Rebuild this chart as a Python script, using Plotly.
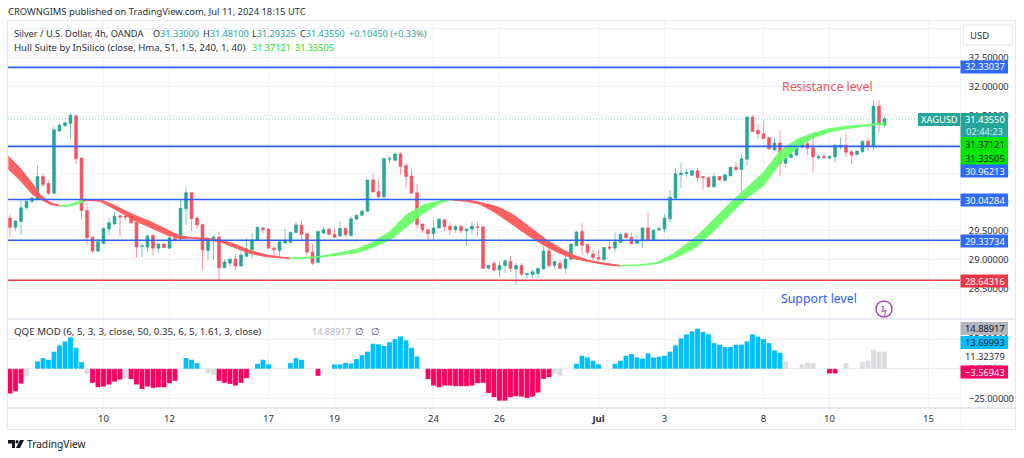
import plotly.graph_objects as go
from plotly.subplots import make_subplots

opens = [29.72,29.56,29.66,29.90,30.01,30.05,30.44,30.32,30.15,31.23,31.32,31.36,31.49,30.76,29.85,29.39,29.15,29.28,29.53,29.62,
29.76,29.75,29.75,29.65,29.23,29.22,29.42,29.20,29.27,29.20,29.38,29.36,29.88,30.16,29.72,29.61,29.16,29.33,29.39,28.86,
28.94,29.01,28.89,29.06,29.17,29.34,29.55,29.53,29.20,29.16,29.29,29.30,29.47,29.60,29.45,29.13,28.95,29.46,29.53,29.44,
29.41,29.54,29.42,29.70,29.77,29.84,30.38,30.18,30.09,30.74,30.72,30.83,30.63,30.45,30.16,29.62,29.52,29.45,29.55,29.69,
29.58,29.52,29.58,29.50,29.53,29.57,29.57,28.85,28.94,28.82,28.90,28.97,28.84,28.90,28.74,28.74,28.76,28.84,29.15,28.90,
28.94,28.85,29.01,29.24,29.49,29.26,29.10,29.04,29.00,29.22,29.20,29.30,29.45,29.39,29.28,29.33,29.55,29.34,29.52,29.53,
29.71,30.07,30.47,30.49,30.46,30.54,30.44,30.42,30.26,30.44,30.37,30.45,30.60,30.56,30.74,31.47,31.24,31.18,31.11,30.90,
31.02,30.67,30.77,30.81,30.95,31.01,30.94,30.76,30.79,30.76,30.78,30.95,30.98,30.87,30.82,30.87,31.05,30.97,31.66,31.33]
highs = [29.78,29.69,30.04,30.04,30.08,30.63,30.49,30.37,31.30,31.36,31.39,31.55,31.52,30.76,29.98,29.40,29.37,29.56,29.72,29.82,
29.78,29.78,29.80,29.66,29.28,29.43,29.44,29.28,29.28,29.48,29.43,30.04,30.26,30.16,29.75,29.61,29.40,29.43,29.49,29.01,
29.02,29.10,29.17,29.37,29.46,29.57,29.57,29.53,29.23,29.32,29.54,29.49,29.66,29.68,29.45,29.27,29.50,29.57,29.54,29.53,
29.66,29.57,29.75,29.78,29.85,30.38,30.50,30.40,30.76,30.80,30.86,30.86,30.67,30.57,30.31,29.62,29.52,29.69,29.72,29.71,
29.64,29.60,29.59,29.54,29.66,29.65,29.57,28.91,28.98,28.97,29.00,29.07,28.94,28.94,28.76,28.83,28.85,29.23,29.31,28.98,
29.00,29.14,29.28,29.50,29.63,29.27,29.17,29.17,29.22,29.34,29.47,29.47,29.47,29.47,29.43,29.56,29.82,29.53,29.59,29.79,
30.20,30.59,30.67,30.57,30.56,30.59,30.44,30.44,30.50,30.44,30.48,30.60,30.70,30.82,31.48,31.50,31.34,31.40,31.12,31.12,
31.24,30.82,30.90,31.02,31.08,31.14,31.14,30.82,30.85,30.81,31.00,31.12,31.18,30.90,30.89,31.06,31.12,31.76,31.76,31.48]
lows = [29.39,29.50,29.43,29.87,29.97,30.04,30.26,30.12,30.14,31.21,31.30,31.08,30.66,29.69,29.25,29.11,29.12,29.26,29.43,29.60,
29.40,29.68,29.62,29.03,29.04,29.13,29.07,29.12,29.20,29.19,29.31,29.34,29.61,29.50,29.53,28.82,28.99,28.99,28.64,28.85,
28.88,28.82,28.89,29.04,29.03,29.31,29.46,29.19,29.02,29.05,29.28,29.28,29.46,29.35,29.05,28.91,28.94,29.44,29.42,29.38,
29.39,29.40,29.40,29.69,29.75,29.83,30.17,30.06,30.04,30.68,30.71,30.47,30.24,30.15,29.54,29.46,29.34,29.34,29.53,29.50,
29.43,29.46,29.46,29.25,29.43,29.40,28.84,28.83,28.80,28.70,28.77,28.79,28.56,28.71,28.68,28.68,28.68,28.83,28.85,28.85,
28.84,28.76,28.99,29.24,29.08,29.08,28.99,28.98,28.97,29.16,29.13,29.28,29.37,29.27,29.27,29.20,29.32,29.32,29.50,29.47,
29.64,30.05,30.24,30.43,30.45,30.35,30.21,30.26,30.26,30.37,30.36,30.45,30.53,30.12,30.63,31.22,31.09,31.08,30.89,30.89,
30.45,30.60,30.76,30.80,30.93,30.82,30.51,30.74,30.75,30.73,30.68,30.90,30.78,30.65,30.81,30.86,30.89,30.89,31.20,31.29]
closes = [29.56,29.67,29.90,30.01,30.07,30.44,30.30,30.15,31.25,31.33,31.37,31.50,30.75,29.85,29.38,29.15,29.31,29.54,29.64,29.75,
29.74,29.74,29.64,29.22,29.24,29.41,29.20,29.27,29.21,29.38,29.35,29.89,30.16,29.71,29.60,29.17,29.35,29.39,28.86,28.96,
29.01,28.89,29.08,29.19,29.34,29.56,29.52,29.20,29.17,29.31,29.33,29.47,29.60,29.44,29.13,28.94,29.49,29.52,29.44,29.39,
29.54,29.43,29.71,29.77,29.84,30.38,30.17,30.09,30.75,30.75,30.83,30.62,30.44,30.15,29.61,29.52,29.45,29.55,29.70,29.57,
29.52,29.57,29.50,29.53,29.58,29.56,28.85,28.90,28.82,28.90,28.98,28.85,28.90,28.75,28.76,28.79,28.85,29.15,28.90,28.97,
28.85,29.01,29.27,29.48,29.25,29.13,29.04,29.01,29.21,29.20,29.31,29.44,29.38,29.28,29.33,29.55,29.33,29.51,29.54,29.72,
30.08,30.49,30.50,30.51,30.54,30.42,30.42,30.26,30.44,30.38,30.47,30.60,30.56,30.75,31.47,31.22,31.18,31.10,30.92,31.02,
30.66,30.76,30.82,30.97,31.01,30.93,30.78,30.79,30.77,30.79,30.98,30.98,30.86,30.81,30.88,31.05,30.97,31.66,31.34,31.44]

hull_x = [-0.3,1.8,4.2,5.5,7.3,9,10.3,12.1,13.3,13.9,16.4,18.8,22.4,25.5,28.5,30.9,33.3,35.8,38.2,40.6,43.6,46.7,49.7,50.9,
52.7,55.8,60,63,66.1,69.1,72.1,75.2,78.2,80,83,85.5,88.5,91.5,94.5,97.6,100,102.4,105.5,108.5,110.9,
114.5,117.6,120.6,122,124.8,127.9,130.9,133.9,136.9,140,143,146,149,152.1,155.2,157.6,159]
hull_upper = [30.79,30.59,30.30,30.12,29.99,29.94,29.94,29.99,30.04,30.04,30.04,29.95,29.78,29.66,29.52,29.41,29.38,29.37,29.34,29.28,29.16,29.08,29.04,29.03,
29.04,29.05,29.12,29.18,29.31,29.49,29.78,29.95,30.02,30.04,30.04,29.99,29.92,29.78,29.57,29.34,29.20,29.08,28.98,28.94,28.90,
28.91,28.95,29.10,29.20,29.40,29.69,29.98,30.24,30.50,30.88,31.08,31.19,31.27,31.31,31.33,31.36,31.37]
hull_lower = [30.57,30.38,30.12,30.05,29.96,29.93,29.92,29.96,30.00,30.03,30.01,29.89,29.69,29.56,29.43,29.37,29.37,29.34,29.31,29.22,29.11,29.05,29.03,29.02,
29.02,29.04,29.09,29.12,29.22,29.34,29.57,29.81,29.98,30.04,30.01,29.96,29.80,29.60,29.40,29.22,29.11,29.02,28.97,28.91,28.89,
28.90,28.93,29.02,29.08,29.22,29.49,29.78,30.07,30.27,30.67,30.93,31.11,31.21,31.27,31.31,31.34,31.335]
hull_breaks = [0,5,8,23,33,44,61]  # node where each red/green stretch starts or ends

qqe = [-20.8,-18.9,-12.4,-6.5,0,6.2,9,7.6,14.4,19.7,23.1,26.5,17.7,5.6,-4.5,-11.8,-15.5,-14.9,-13.2,-10.7,
-9,-7.9,-8.7,-13.2,-16.9,-14.9,-16,-15.5,-15.5,-12.1,-10.1,0,9,7.6,4.8,0,-3.9,-4.8,-10.1,-11.8,
-12.7,-14.1,-11.8,-7.9,0,4.2,7.6,3.7,0,0,0,4.8,9,7.6,0,0,-5.9,0,0,3.7,
3.7,5,4.5,8.2,11.5,14.4,21.1,20.6,19.2,22.3,25,27.3,23.9,17.7,10.4,0,-8.7,-14.1,-15.5,-14.1,
-14.1,-14.6,-14.6,-14.6,-14.1,-12.1,-11.8,-20.3,-23.9,-26.8,-26.8,-23.9,-23.1,-23.4,-24.5,-23.4,-20,-8.5,-7,-4.2,
-5.9,0,0,4.2,11,9.6,6.8,3.7,0,0,4.2,6.8,11,12.4,9.6,8.7,13,9.6,10.1,11,
14.4,19.7,25.6,29,31.5,33.8,31,29,21.7,20.3,18.3,18.3,20.3,20.3,23.1,29,27,25,21.7,15.5,
13.5,6.2,0,0,3.7,5.4,4.8,0,0,-3.9,-3.9,0,4.8,0,0,5.6,6.8,15.8,14.4,14.4]
qqe_neutral = [3,14,21,36,37,99,100,141,144,145,146,152,155,156,157,158,159]

date_ticks = [17,29,47,59,77,89,107,119,137,149,167]
date_labels = ["10","12","17","19","24","26","<b>Jul</b>","3","8","10","15"]
blue_levels = [32.33037,30.96213,30.04284,29.33734]
support_level = 28.64316
last_price = 31.4355
price_ticks = [28.5,29,29.5,30,30.5,31,31.5,32,32.5,33]
price_tick_text = ["28.50000","29.00000","29.50000","30.00000","30.50000","31.00000","31.50000","32.00000","32.50000",""]
FONT = "Noto Sans"
TXT = "#2a2e39"
TEAL = "#26a69a"
RED = "#f7525f"
BLUE = "#2962ff"
GRID = "#f0f3fa"
EDGE = "#e6e9f0"
LEFT, RIGHT, TOP, PANE1, PANE2, BOTTOM = 8, 960, 21, 319, 408, 458

def px(x):
    return (x - LEFT) / (RIGHT - LEFT)
def py(y):
    return 1 - (y - TOP) / (PANE2 - TOP)

fig = make_subplots(rows=2, cols=1, shared_xaxes=True)
n = len(closes)
idx = list(range(n))
fig.add_trace(go.Candlestick(x=idx, open=opens, high=highs, low=lows, close=closes, whiskerwidth=0,
    increasing=dict(line=dict(color="rgba(38,166,154,0.6)", width=1), fillcolor=TEAL),
    decreasing=dict(line=dict(color="rgba(247,82,95,0.6)", width=1), fillcolor=RED)), row=1, col=1)

for k in range(len(hull_breaks) - 1):
    a, b = hull_breaks[k], hull_breaks[k + 1] + 1
    col = "rgba(255,85,85,0.92)" if k % 2 == 0 else "rgba(105,255,105,0.95)"
    fig.add_trace(go.Scatter(x=hull_x[a:b], y=hull_lower[a:b], mode="lines", line=dict(color=col, width=1)), row=1, col=1)
    fig.add_trace(go.Scatter(x=hull_x[a:b], y=hull_upper[a:b], mode="lines", line=dict(color=col, width=1),
                             fill="tonexty", fillcolor=col), row=1, col=1)

xr = [(LEFT - 10) / 5.5, (RIGHT - 10) / 5.5]
fig.add_trace(go.Scatter(x=xr, y=[last_price] * 2, mode="lines", line=dict(color="rgba(38,166,154,0.7)", width=0.8, dash="1px 2px")), row=1, col=1)
for lv in blue_levels:
    fig.add_trace(go.Scatter(x=xr, y=[lv] * 2, mode="lines", line=dict(color=BLUE, width=1.6)), row=1, col=1)
fig.add_trace(go.Scatter(x=xr, y=[support_level] * 2, mode="lines", line=dict(color="#f23645", width=1.6)), row=1, col=1)

bar_cols = ["#dcdde0" if i in qqe_neutral else ("#00bfff" if v > 0 else "#ff0060") for i, v in enumerate(qqe)]
fig.add_trace(go.Bar(x=idx, y=qqe, marker=dict(color=bar_cols, line=dict(width=0))), row=2, col=1)
fig.add_trace(go.Scatter(x=xr, y=[0, 0], mode="lines", line=dict(color="#d4d6dc", width=0.8, dash="1px 2px")), row=2, col=1)

shapes = []
def rect(x0, y0, x1, y1, fill, line=None, **kw):
    shapes.append(dict(type="rect", xref="paper", yref="paper", x0=px(x0), x1=px(x1), y0=py(y0), y1=py(y1),
                       fillcolor=fill, line=dict(color=line or fill, width=1 if line else 0), layer="above", **kw))
anns = []
def text(x, y, s, size=9.5, color=TXT, anchor="left"):
    anns.append(dict(xref="paper", yref="paper", x=px(x), y=py(y), text=s, showarrow=False, xanchor=anchor, yanchor="middle",
                     font=dict(family=FONT, size=size, color=color), borderpad=0, borderwidth=0))
TAGF = 9.3
def tag(y, s, bg, fg="#ffffff", h=13):
    rect(960.5, y - h / 2, 1008, y + h / 2, bg)
    text(985, y, s, TAGF, fg, "center")

# frame and pane separators
rect(RIGHT + 0.5, TOP, RIGHT + 1, 429, EDGE)
rect(LEFT, PANE1 - 1, 1015, PANE1 + 1, EDGE)
rect(LEFT, PANE2 - 1, 1015, PANE2 + 1, EDGE)
rect(LEFT - 1, TOP - 1, LEFT, 430, EDGE)
rect(LEFT - 1, TOP - 1, 1015, TOP, EDGE)
rect(1015, TOP - 1, 1016, 430, EDGE)
rect(LEFT - 1, 429, 1016, 430, EDGE)

# price tags
tag(67, "32.33037", "#2f6bff")
rect(918, 113, 960, 126, TEAL)
text(939, 119.5, "XAGUSD", TAGF, "#ffffff", "center")
rect(960.5, 113, 1008, 137, TEAL)
text(985, 119.5, "31.43550", TAGF, "#ffffff", "center")
text(985, 131, "02:44:23", TAGF, "#cfeeea", "center")
rect(960.5, 137, 1008, 165, "#00e600")
text(985, 144, "31.37121", TAGF, "#131722", "center")
text(985, 158, "31.33505", TAGF, "#131722", "center")
tag(171, "30.96213", "#2f6bff")
tag(200, "30.04284", "#2f6bff")
tag(241, "29.33734", "#2f6bff")
tag(281, "28.64316", "#f23645")
tag(328.5, "14.88917", "#b2b5be", "#131722")
tag(342.5, "13.69993", "#00bfff", "#131722")
text(985, 356, "11.32379", TAGF, TXT, "center")
tag(372, "−3.56943", "#ff0060")

# USD button
shapes.append(dict(type="rect", xref="paper", yref="paper", x0=px(963.5), x1=px(1012.5), y0=py(25), y1=py(45), fillcolor="#ffffff",
                   line=dict(color=EDGE, width=1), layer="above"))
text(970, 35, "USD", 9.5, TXT)

# legends and captions
text(8, 12, "CROWNGIMS published on TradingView.com, Jul 11, 2024 18:15 UTC", 9.4)
text(14, 33, "Silver / U.S. Dollar, 4h, OANDA", 9.3)
for x, lab, val in [(153, "O", "31.33000"), (203, "H", "31.48100"), (252, "L", "31.29325"), (300, "C", "31.43550")]:
    text(x, 33, f"{lab}<span style='color:{TEAL}'>{val}</span>", 9.1)
text(349, 33, "+0.10450 (+0.33%)", 9.1, TEAL)
text(14, 47, "Hull Suite by InSilico (close, Hma, 51, 1.5, 240, 1, 40)", 9.6)
text(252, 47, "31.37121", 9.1, "#22e022")
text(295, 47, "31.33505", 9.1, "#22e022")
text(14, 331, "QQE MOD (6, 5, 3, 3, close, 50, 0.35, 6, 5, 1.61, 3, close)", 9.75)
text(312, 331, "14.88917", 9.1, "#b2b5be")
text(355, 331, "∅", 9.5, "#555b68")
text(371, 331, "∅", 9.5, "#555b68")
text(782, 86, "Resistance level", 12.3, "#f7525f")
text(781, 298, "Support level", 12.3, "#2962ff")
shapes.append(dict(type="circle", xref="paper", yref="paper", x0=px(876), x1=px(892), y0=py(301), y1=py(317),
                   fillcolor="#ffffff", line=dict(color="#ab47bc", width=1.5), layer="above"))
text(884, 309, "ϟ", 11, "#ab47bc", "center")

# TradingView mark
shapes.append(dict(type="path", xref="paper", yref="paper", layer="above", fillcolor="#131722", line=dict(width=0),
    path=f"M {px(8)} {py(440)} L {px(15)} {py(440)} L {px(15)} {py(448)} L {px(12)} {py(448)} L {px(12)} {py(443.5)} L {px(8)} {py(443.5)} Z"))
shapes.append(dict(type="circle", xref="paper", yref="paper", layer="above", fillcolor="#131722", line=dict(width=0),
    x0=px(15.5), x1=px(18.5), y0=py(440), y1=py(443.5)))
shapes.append(dict(type="path", xref="paper", yref="paper", layer="above", fillcolor="#131722", line=dict(width=0),
    path=f"M {px(20)} {py(440)} L {px(24)} {py(440)} L {px(20)} {py(448)} L {px(16)} {py(448)} Z"))
text(27, 444, "TradingView", 10.2, "#131722")

fig.update_layout(width=1024, height=458, autosize=False, showlegend=False, paper_bgcolor="#ffffff", plot_bgcolor="#ffffff",
                  margin=dict(l=LEFT, r=1024 - RIGHT, t=TOP, b=BOTTOM - PANE2, pad=0), bargap=0.12, boxgap=0.27,
                  font=dict(family=FONT, size=9.5, color=TXT), shapes=shapes, annotations=anns, dragmode=False)
fig.update_xaxes(range=xr, tickmode="array", tickvals=date_ticks, ticktext=date_labels, showgrid=True, gridcolor=GRID, gridwidth=1,
                 zeroline=False, showline=False, rangeslider=dict(visible=False), ticks="")
fig.update_xaxes(showticklabels=False, row=1, col=1)
fig.update_xaxes(showticklabels=True, ticks="outside", ticklen=2, tickcolor="rgba(0,0,0,0)", tickfont=dict(size=9.5, color=TXT, family=FONT), row=2, col=1)
fig.update_yaxes(side="right", showgrid=True, gridcolor=GRID, gridwidth=1, zeroline=False, showline=False,
                 ticks="outside", ticklen=6, tickcolor="rgba(0,0,0,0)", tickfont=dict(size=TAGF, color=TXT, family=FONT))
fig.update_yaxes(domain=[(PANE2 - PANE1) / (PANE2 - TOP), 1], range=[27.973, 33.133], tickmode="array", tickvals=price_ticks, ticktext=price_tick_text, row=1, col=1)
fig.update_yaxes(domain=[0, (PANE2 - PANE1 - 1) / (PANE2 - TOP)], range=[-33, 41.1], tickmode="array",
                 tickvals=[-25, 0, 25], ticktext=["−25.00000", "0.00000", "25.00000"], row=2, col=1)

fig.write_html("out.html", config=dict(displayModeBar=False), post_script="document.body.style.margin='0';document.body.style.overflow='hidden';")
